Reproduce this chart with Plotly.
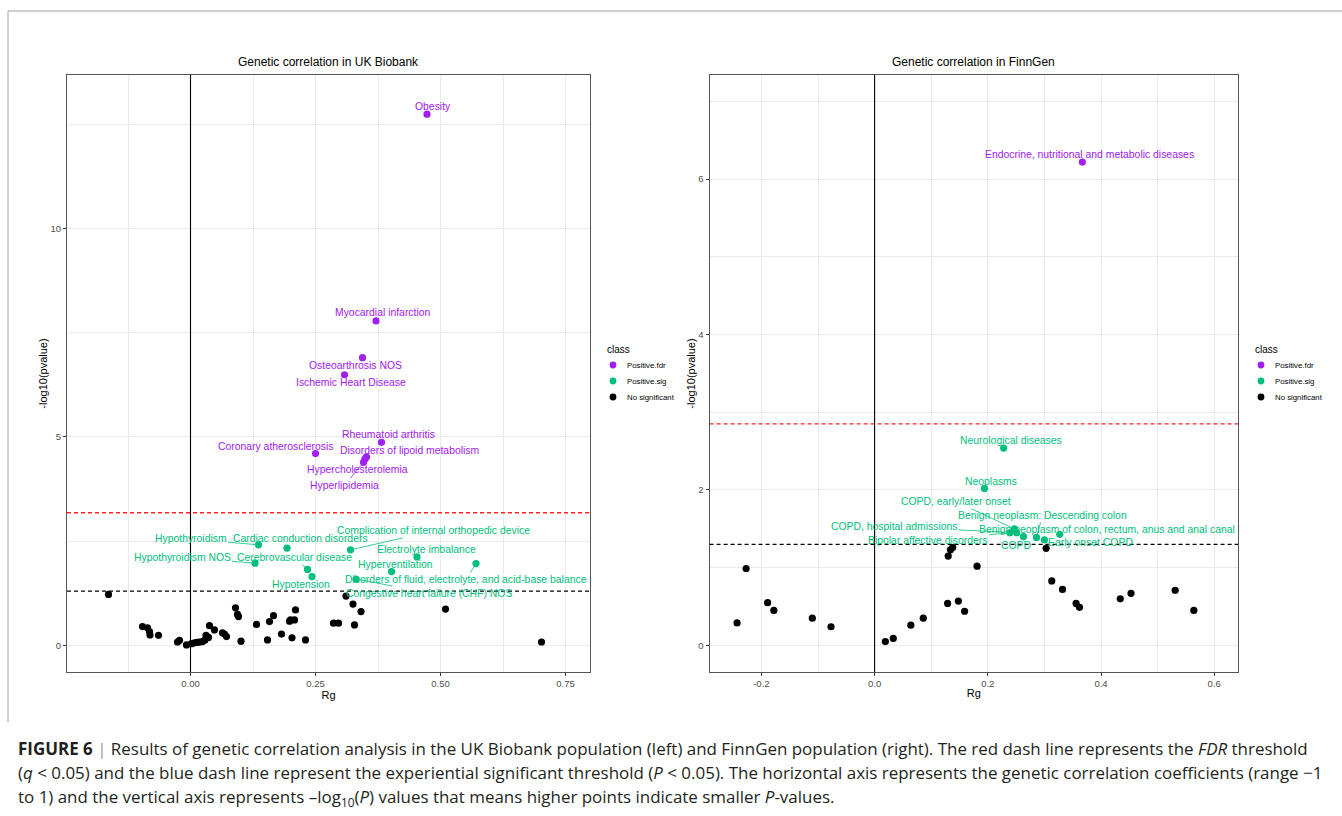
import plotly.graph_objects as go

W, H = 1342, 816

# ---------------- data: UK Biobank ----------------
uk_fdr_names = ["Obesity", "Myocardial infarction", "Osteoarthrosis NOS", "Ischemic Heart Disease",
                "Rheumatoid arthritis", "Coronary atherosclerosis", "Disorders of lipoid metabolism",
                "Hypercholesterolemia", "Hyperlipidemia"]
uk_fdr_rg = [0.473, 0.371, 0.344, 0.308, 0.382, 0.250, 0.352, 0.349, 0.346]
uk_fdr_logp = [12.74, 7.78, 6.90, 6.49, 4.87, 4.60, 4.52, 4.47, 4.39]

uk_sig_names = ["Hypothyroidism", "Cardiac conduction disorders", "Hypothyroidism NOS",
                "Cerebrovascular disease", "Hypotension", "Complication of internal orthopedic device",
                "Electrolyte imbalance", "Hyperventilation",
                "Disorders of fluid, electrolyte, and acid-base balance",
                "Congestive heart failure (CHF) NOS"]
uk_sig_rg = [0.136, 0.193, 0.129, 0.234, 0.243, 0.320, 0.453, 0.402, 0.571, 0.331]
uk_sig_logp = [2.41, 2.33, 1.97, 1.82, 1.65, 2.29, 2.12, 1.77, 1.96, 1.59]

uk_ns_rg = [-0.164, -0.096, -0.086, -0.082, -0.081, -0.064, -0.026, -0.022, -0.008, 0.002,
            0.008, 0.013, 0.018, 0.024, 0.029, 0.031, 0.036, 0.038, 0.048, 0.064,
            0.068, 0.072, 0.090, 0.094, 0.096, 0.101, 0.132, 0.154, 0.158, 0.166,
            0.182, 0.198, 0.200, 0.208, 0.210, 0.203, 0.230, 0.286, 0.296, 0.311,
            0.325, 0.341, 0.328, 0.510, 0.702]
uk_ns_logp = [1.22, 0.45, 0.42, 0.33, 0.25, 0.24, 0.08, 0.12, 0.01, 0.04,
              0.06, 0.07, 0.08, 0.09, 0.13, 0.24, 0.19, 0.47, 0.37, 0.30,
              0.27, 0.21, 0.90, 0.74, 0.69, 0.10, 0.50, 0.13, 0.57, 0.71,
              0.27, 0.58, 0.61, 0.61, 0.85, 0.18, 0.13, 0.53, 0.53, 1.18,
              0.99, 0.81, 0.49, 0.87, 0.08]
uk_fdr_threshold = 3.18

# ---------------- data: FinnGen ----------------
fg_fdr_names = ["Endocrine, nutritional and metabolic diseases"]
fg_fdr_rg = [0.367]
fg_fdr_logp = [6.22]

fg_sig_names = ["Neurological diseases", "Neoplasms", "COPD, early/later onset",
                "Benign neoplasm: Descending colon", "COPD, hospital admissions",
                "Benign neoplasm of colon, rectum, anus and anal canal",
                "Bipolar affective disorders", "COPD", "Early onset COPD"]
fg_sig_rg = [0.228, 0.194, 0.247, 0.286, 0.251, 0.327, 0.239, 0.263, 0.300]
fg_sig_logp = [2.54, 2.02, 1.50, 1.39, 1.45, 1.43, 1.45, 1.40, 1.36]

fg_ns_rg = [-0.243, -0.227, -0.189, -0.178, -0.110, -0.077, 0.019, 0.033, 0.064, 0.086,
            0.129, 0.148, 0.159, 0.130, 0.134, 0.138, 0.181, 0.303, 0.313, 0.332,
            0.356, 0.362, 0.434, 0.453, 0.531, 0.564]
fg_ns_logp = [0.29, 0.99, 0.55, 0.45, 0.35, 0.24, 0.05, 0.09, 0.26, 0.35,
              0.54, 0.57, 0.44, 1.15, 1.23, 1.26, 1.02, 1.25, 0.83, 0.72,
              0.54, 0.49, 0.60, 0.67, 0.71, 0.45]
fg_fdr_threshold = 2.85

sig_threshold = 1.301  # -log10(0.05)

class_names = ["Positive.fdr", "Positive.sig", "No significant"]

# tick labels
uk_x_ticks = [0.0, 0.25, 0.50, 0.75]
uk_x_ticktext = ["0.00", "0.25", "0.50", "0.75"]
uk_y_ticks = [0, 5, 10]
fg_x_ticks = [-0.2, 0.0, 0.2, 0.4, 0.6]
fg_x_ticktext = ["-0.2", "0.0", "0.2", "0.4", "0.6"]
fg_y_ticks = [0, 2, 4, 6]

# ---------------- styling ----------------
FONT = "Liberation Sans, Arial, Helvetica, sans-serif"
CAP_FONT = "Open Sans, Liberation Sans, Arial, sans-serif"
COL = {"Positive.fdr": "#A020F0", "Positive.sig": "#00BF7D", "No significant": "#000000"}
GRID = "#EBEBEB"

# label offsets in pixels (dx right, dy down, draw segment)
label_pos = {
    "Obesity": (6, -8, False),
    "Myocardial infarction": (7, -8, False),
    "Osteoarthrosis NOS": (-7, 8, False),
    "Ischemic Heart Disease": (6, 8, False),
    "Rheumatoid arthritis": (7, -8, False),
    "Coronary atherosclerosis": (-40, -7, False),
    "Disorders of lipoid metabolism": (43, -6, False),
    "Hypercholesterolemia": (-8, 11, False),
    "Hyperlipidemia": (-19, 23, True),
    "Hypothyroidism": (-68, -6, True),
    "Cardiac conduction disorders": (13, -10, False),
    "Hypothyroidism NOS": (-73, -6, True),
    "Cerebrovascular disease": (-13, -12, True),
    "Hypotension": (-11, 8, False),
    "Complication of internal orthopedic device": (83, -19, True),
    "Electrolyte imbalance": (9, -7, False),
    "Hyperventilation": (4, -7, False),
    "Disorders of fluid, electrolyte, and acid-base balance": (-10, 16, True),
    "Congestive heart failure (CHF) NOS": (73, 14, True),
    "Endocrine, nutritional and metabolic diseases": (7, -8, False),
    "Neurological diseases": (7, -8, False),
    "Neoplasms": (7, -7, False),
    "COPD, early/later onset": (-58, -27, True),
    "Benign neoplasm: Descending colon": (6, -22, True),
    "COPD, hospital admissions": (-123, -6, True),
    "Benign neoplasm of colon, rectum, anus and anal canal": (47, -5, False),
    "Bipolar affective disorders": (-82, 8, True),
    "COPD": (-7, 9, False),
    "Early onset COPD": (46, 3, False),
}

fig = go.Figure()
annotations = []
shapes = []


def add_panel(xa, ya, fdr, sig, ns, fdr_thr):
    groups = [("Positive.fdr", fdr[0], fdr[1], fdr[2]),
              ("Positive.sig", sig[0], sig[1], sig[2]),
              ("No significant", None, ns[0], ns[1])]
    for cls, names, xs, ys in groups:
        fig.add_trace(go.Scatter(
            x=xs, y=ys, mode="markers", name=cls, xaxis=xa, yaxis=ya, showlegend=False,
            marker=dict(color=COL[cls], size=7.2, line=dict(width=0)),
            text=names, hoverinfo="text+x+y" if names else "x+y", cliponaxis=False))
        if names:
            for n, xv, yv in zip(names, xs, ys):
                dx, dy, seg = label_pos[n]
                a = dict(x=xv, y=yv, xref=xa, yref=ya, text=n,
                         font=dict(family=FONT, size=10.4, color=COL[cls]))
                if seg:
                    a.update(showarrow=True, ax=dx, ay=dy, axref="pixel", ayref="pixel",
                             arrowhead=0, arrowwidth=0.8, arrowcolor=COL[cls], standoff=3)
                else:
                    a.update(showarrow=False, xshift=dx, yshift=-dy)
                annotations.append(a)
    # threshold lines and zero line
    shapes.append(dict(type="line", xref=xa + " domain", yref=ya, x0=0, x1=1, y0=fdr_thr, y1=fdr_thr,
                       line=dict(color="#FF2020", width=1.3, dash="4px,3px"), layer="above"))
    shapes.append(dict(type="line", xref=xa + " domain", yref=ya, x0=0, x1=1, y0=sig_threshold,
                       y1=sig_threshold, line=dict(color="#000000", width=1.3, dash="4px,3px"), layer="above"))
    shapes.append(dict(type="line", xref=xa, yref=ya + " domain", x0=0, x1=0, y0=0, y1=1,
                       line=dict(color="#000000", width=1.1), layer="above"))


add_panel("x", "y", (uk_fdr_names, uk_fdr_rg, uk_fdr_logp),
          (uk_sig_names, uk_sig_rg, uk_sig_logp), (uk_ns_rg, uk_ns_logp), uk_fdr_threshold)
add_panel("x2", "y2", (fg_fdr_names, fg_fdr_rg, fg_fdr_logp),
          (fg_sig_names, fg_sig_rg, fg_sig_logp), (fg_ns_rg, fg_ns_logp), fg_fdr_threshold)

axis_common = dict(showline=True, mirror=True, linecolor="#555555", linewidth=1.1,
                   ticks="outside", ticklen=3, tickwidth=1, tickcolor="#333333",
                   showgrid=True, gridcolor=GRID, gridwidth=1.1, zeroline=False,
                   tickfont=dict(family=FONT, size=9.5, color="#4D4D4D"),
                   layer="below traces")

ytop, ybot = 1 - 75 / H, 1 - 672 / H

fig.update_layout(
    width=W, height=H, margin=dict(l=0, r=0, t=0, b=0),
    paper_bgcolor="white", plot_bgcolor="white",
    font=dict(family=FONT, color="#000000"),
    showlegend=False,
    xaxis=dict(domain=[67 / W, 590 / W], range=[-0.247, 0.799], anchor="y",
               tickvals=uk_x_ticks, ticktext=uk_x_ticktext,
               minor=dict(tickvals=[-0.125, 0.125, 0.375, 0.625], showgrid=True,
                          gridcolor=GRID, gridwidth=0.6, ticklen=0),
               title=dict(text="Rg", font=dict(size=11, family=FONT), standoff=0),
               **axis_common),
    yaxis=dict(domain=[ybot, ytop], range=[-0.64, 13.68], anchor="x",
               tickvals=uk_y_ticks,
               minor=dict(tickvals=[2.5, 7.5, 12.5], showgrid=True,
                          gridcolor=GRID, gridwidth=0.6, ticklen=0),
               title=dict(text="-log10(pvalue)", font=dict(size=11, family=FONT), standoff=0),
               **axis_common),
    xaxis2=dict(domain=[709.6 / W, 1238 / W], range=[-0.2915, 0.642], anchor="y2",
                tickvals=fg_x_ticks, ticktext=fg_x_ticktext,
                minor=dict(tickvals=[-0.3, -0.1, 0.1, 0.3, 0.5], showgrid=True,
                           gridcolor=GRID, gridwidth=0.6, ticklen=0),
                title=dict(text="Rg", font=dict(size=11, family=FONT), standoff=0),
                **axis_common),
    yaxis2=dict(domain=[ybot, ytop], range=[-0.342, 7.34], anchor="x2",
                tickvals=fg_y_ticks,
                minor=dict(tickvals=[1, 3, 5, 7], showgrid=True,
                           gridcolor=GRID, gridwidth=0.6, ticklen=0),
                title=dict(text="-log10(pvalue)", font=dict(size=11, family=FONT), standoff=0),
                **axis_common),
)

# legends ("class"), one per panel: (title x, symbol x, text x)
legend_cols = [(605, 613, 625), (1253, 1261, 1273)]
legend_title_y = 349
legend_row_y = [365, 381, 397]
for tx, sx, lx in legend_cols:
    annotations.append(dict(text="class", x=tx / W, y=1 - legend_title_y / H, xref="paper", yref="paper",
                            showarrow=False, xanchor="left", yanchor="middle",
                            font=dict(size=10, family=FONT, color="#000000")))
    for cls, ry in zip(class_names, legend_row_y):
        shapes.append(dict(type="circle", xref="paper", yref="paper", xsizemode="pixel", ysizemode="pixel",
                           xanchor=sx / W, yanchor=1 - ry / H, x0=-3.4, x1=3.4, y0=-3.4, y1=3.4,
                           fillcolor=COL[cls], line=dict(width=0)))
        annotations.append(dict(text=cls, x=lx / W, y=1 - ry / H, xref="paper", yref="paper",
                                showarrow=False, xanchor="left", yanchor="middle",
                                font=dict(size=7.8, family=FONT, color="#000000")))

# panel titles
annotations.append(dict(text="Genetic correlation in UK Biobank", x=(67 + 590) / 2 / W, y=1 - 62 / H,
                        xref="paper", yref="paper", showarrow=False, xanchor="center", yanchor="middle",
                        font=dict(size=12, family=FONT, color="#000000")))
annotations.append(dict(text="Genetic correlation in FinnGen", x=(709.6 + 1238) / 2 / W, y=1 - 62 / H,
                        xref="paper", yref="paper", showarrow=False, xanchor="center", yanchor="middle",
                        font=dict(size=12, family=FONT, color="#000000")))

# caption
caption_lines = [
    "<b>FIGURE 6</b> <span style='color:#999999'>|</span> Results of genetic correlation analysis in the UK Biobank population (left) and FinnGen population (right). The red dash line represents the <i>FDR</i> threshold",
    "(<i>q</i> &lt; 0.05) and the blue dash line represent the experiential significant threshold (<i>P</i> &lt; 0.05). The horizontal axis represents the genetic correlation coefficients (range \u22121",
    "to 1) and the vertical axis represents \u2013log<sub>10</sub>(<i>P</i>) values that means higher points indicate smaller <i>P</i>-values.",
]
for i, line in enumerate(caption_lines):
    annotations.append(dict(text=line, x=16 / W, y=1 - (748 + 24.5 * i) / H, xref="paper", yref="paper",
                            showarrow=False, xanchor="left", yanchor="middle", align="left",
                            font=dict(size=16.95, family=CAP_FONT, color="#231F20")))

# figure frame (top and left border)
shapes.append(dict(type="line", xref="paper", yref="paper", x0=8 / W, x1=1, y0=1 - 11 / H, y1=1 - 11 / H,
                   line=dict(color="#A0A0A0", width=1)))
shapes.append(dict(type="line", xref="paper", yref="paper", x0=8 / W, x1=8 / W, y0=1 - 11 / H, y1=1 - 722 / H,
                   line=dict(color="#A0A0A0", width=1)))

fig.update_layout(annotations=annotations, shapes=shapes)
fig.write_html("out.html")
